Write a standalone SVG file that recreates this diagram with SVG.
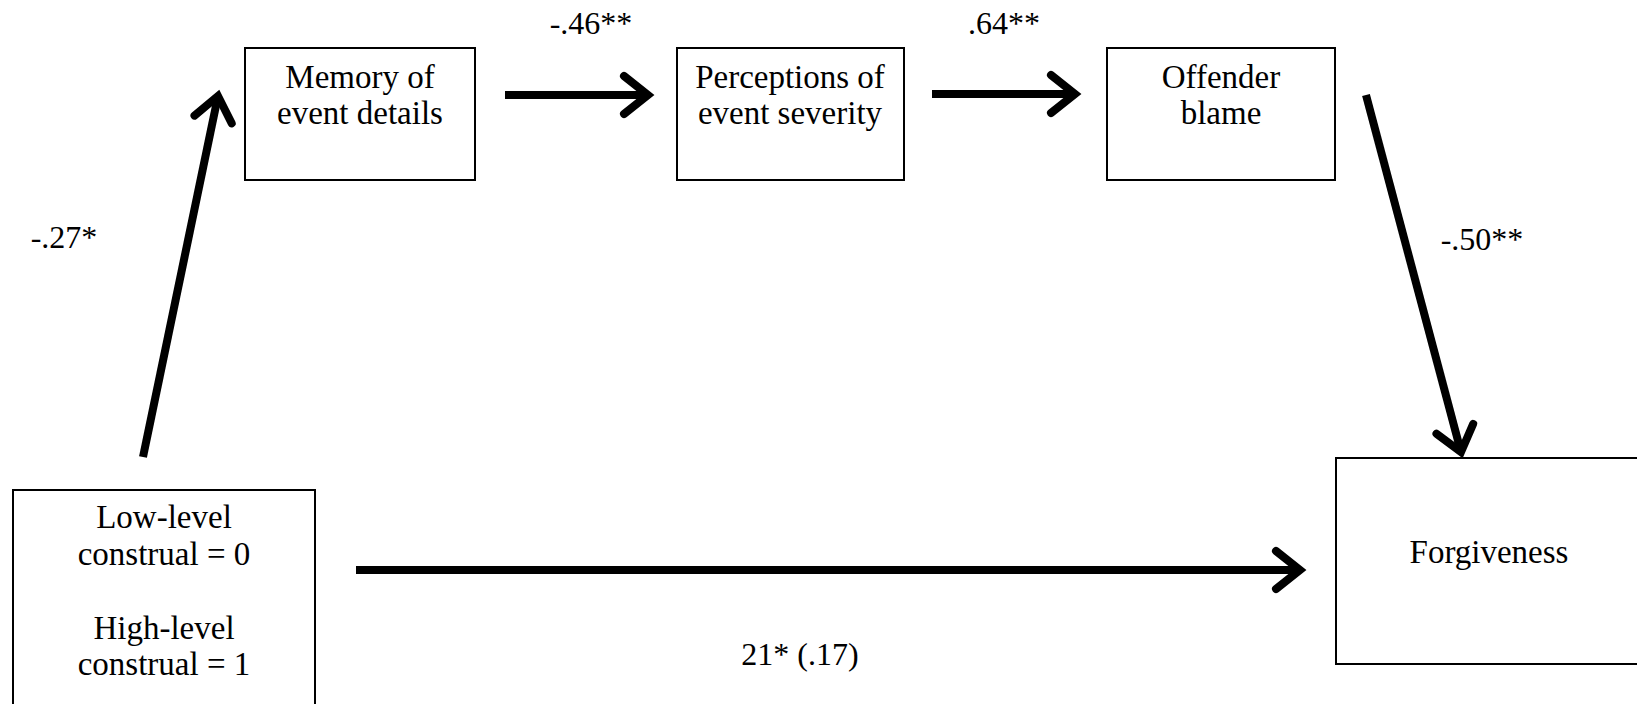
<svg xmlns="http://www.w3.org/2000/svg" width="1637" height="704" viewBox="0 0 1637 704">
<style>
.box{fill:#fff;stroke:#000;stroke-width:2}
.t{font-family:"Liberation Serif","Times New Roman",serif;font-size:33px;fill:#000;text-anchor:middle}
.l{font-family:"Liberation Serif","Times New Roman",serif;font-size:32px;fill:#000;text-anchor:middle}
.c{stroke:#000;stroke-width:8;fill:none}
</style>
<defs>
<marker id="ah" markerUnits="userSpaceOnUse" markerWidth="60" markerHeight="60" refX="0" refY="0" viewBox="-40 -30 50 60" orient="auto" overflow="visible">
<path d="M-24,-19 L0,0 L-24,19" fill="none" stroke="#000" stroke-width="8" stroke-linecap="round" stroke-linejoin="miter"/>
</marker>
</defs>
<rect width="1637" height="704" fill="#fff"/>
<g id="memory"><rect class="box" x="245" y="48" width="230" height="132"/><text class="t" x="360" y="88">Memory of</text><text class="t" x="360" y="124">event details</text></g>
<g id="perceptions"><rect class="box" x="677" y="48" width="227" height="132"/><text class="t" x="790" y="88">Perceptions of</text><text class="t" x="790" y="124">event severity</text></g>
<g id="offender"><rect class="box" x="1107" y="48" width="228" height="132"/><text class="t" x="1221" y="88">Offender</text><text class="t" x="1221" y="124">blame</text></g>
<g id="construal"><rect class="box" x="13" y="490" width="302" height="215"/><text class="t" x="164" y="528">Low-level</text><text class="t" x="164" y="565">construal = 0</text><text class="t" x="164" y="639">High-level</text><text class="t" x="164" y="675">construal = 1</text></g>
<g id="forgiveness"><rect class="box" x="1336" y="458" width="302" height="206"/><text class="t" x="1489" y="563">Forgiveness</text></g>
<g id="connectors">
<line class="c" x1="505" y1="95" x2="648" y2="95" marker-end="url(#ah)"/>
<line class="c" x1="932" y1="94" x2="1075" y2="94" marker-end="url(#ah)"/>
<line class="c" x1="143" y1="457" x2="218" y2="96" marker-end="url(#ah)"/>
<line class="c" x1="1366" y1="95" x2="1461" y2="452" marker-end="url(#ah)"/>
<line class="c" x1="356" y1="570" x2="1300" y2="570" marker-end="url(#ah)"/>
</g>
<g id="labels">
<text class="l" x="591" y="34">-.46**</text>
<text class="l" x="1004" y="34">.64**</text>
<text class="l" x="64" y="248">-.27*</text>
<text class="l" x="1482" y="250">-.50**</text>
<text class="l" x="800" y="665">21* (.17)</text>
</g>
</svg>
